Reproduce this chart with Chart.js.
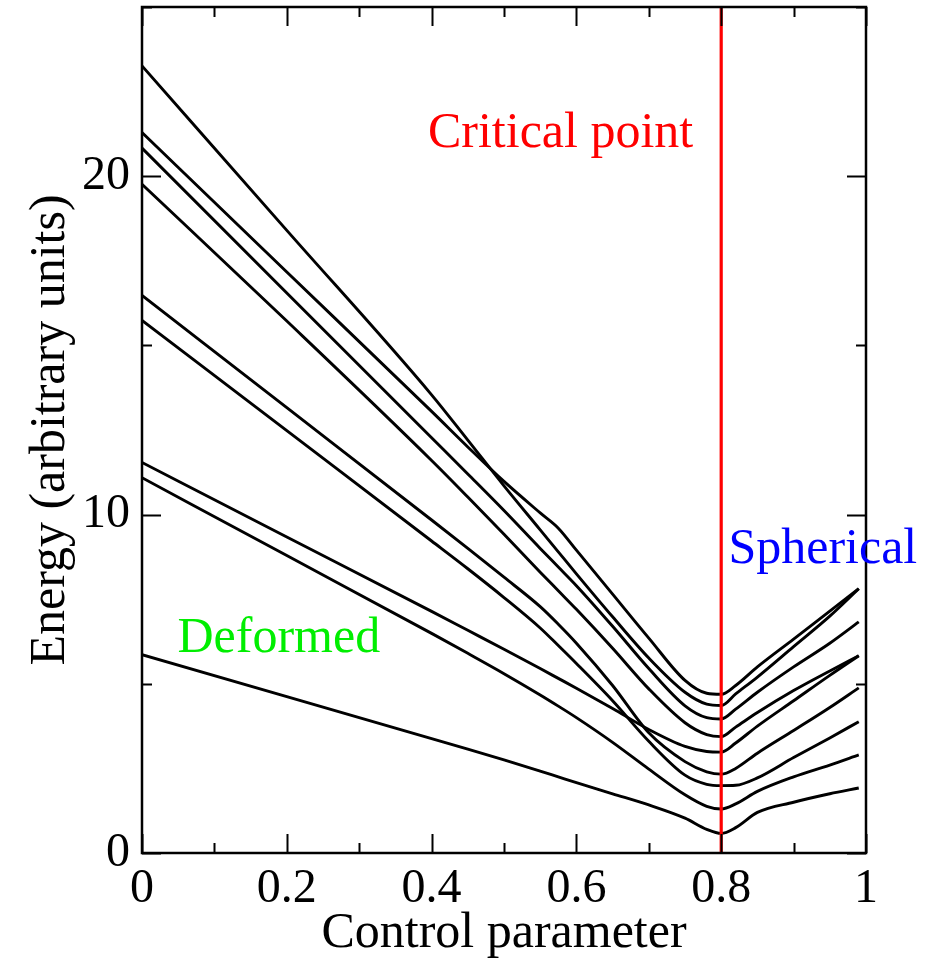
<!DOCTYPE html>
<html>
<head>
<meta charset="utf-8">
<title>Energy levels vs control parameter</title>
<script src="https://cdn.jsdelivr.net/npm/chart.js@4.4.1/dist/chart.umd.min.js"></script>
<style>
  html, body { margin: 0; padding: 0; background: #fff; }
  #wrap { width: 931px; height: 958px; }
</style>
</head>
<body>
<div id="wrap"><canvas id="energyChart" width="931" height="958"></canvas></div>
<script>
// control parameter grid shared by all levels
const CONTROL = [0, 0.2, 0.4, 0.45, 0.5, 0.55, 0.575, 0.6, 0.65, 0.7, 0.75, 0.78, 0.8, 0.82, 0.85, 0.9, 0.95, 0.99];

// energy levels
const LEVEL_1 = [21.29, 17.17, 13.05, 12.0, 10.98, 10.05, 9.6, 8.95, 7.65, 6.35, 5.1, 4.72, 4.69, 4.95, 5.5, 6.32, 7.15, 7.81];
const LEVEL_2 = [23.26, 18.4, 13.54, 12.2, 10.85, 9.55, 8.9, 8.25, 6.98, 5.76, 4.75, 4.4, 4.36, 4.7, 5.2, 6.1, 7.0, 7.81];
const LEVEL_3 = [20.83, 16.55, 12.27, 11.2, 10.12, 9.0, 8.45, 7.9, 6.7, 5.45, 4.35, 4.0, 3.96, 4.25, 4.75, 5.5, 6.2, 6.83];
const LEVEL_4 = [19.76, 15.72, 11.6, 10.52, 9.42, 8.3, 7.75, 7.2, 6.05, 4.85, 3.85, 3.5, 3.44, 3.72, 4.15, 4.8, 5.38, 5.83];
const LEVEL_5 = [11.54, 9.34, 7.14, 6.58, 6.02, 5.45, 5.16, 4.87, 4.27, 3.65, 3.15, 3.0, 2.98, 3.25, 3.75, 4.5, 5.25, 5.83];
const LEVEL_6 = [16.48, 13.16, 9.84, 9.0, 8.15, 7.28, 6.76, 6.2, 4.95, 3.55, 2.7, 2.4, 2.33, 2.5, 2.95, 3.62, 4.3, 4.88];
const LEVEL_7 = [15.74, 12.48, 9.22, 8.4, 7.55, 6.65, 6.13, 5.6, 4.5, 3.3, 2.3, 2.03, 1.99, 2.0, 2.22, 2.82, 3.4, 3.88];
const LEVEL_8 = [11.09, 8.79, 6.49, 5.9, 5.3, 4.67, 4.34, 4.0, 3.27, 2.48, 1.72, 1.38, 1.30, 1.45, 1.82, 2.25, 2.6, 2.90];
const LEVEL_9 = [5.86, 4.62, 3.38, 3.07, 2.75, 2.42, 2.25, 2.08, 1.75, 1.42, 1.03, 0.7, 0.58, 0.75, 1.2, 1.5, 1.75, 1.92];

const LEVELS = [LEVEL_1, LEVEL_2, LEVEL_3, LEVEL_4, LEVEL_5, LEVEL_6, LEVEL_7, LEVEL_8, LEVEL_9];

const CRITICAL_POINT = 0.8;
const X_RANGE = [0, 1];
const Y_RANGE = [0, 25];
const X_MINOR_STEP = 0.1;
const Y_MINOR_STEP = 5;

const SERIF = "'Liberation Serif', 'DejaVu Serif', serif";

function toPoints(values) {
  return values.map((value, i) => ({ x: CONTROL[i], y: value }));
}

// frame with inward ticks on all four sides, plus the region labels
const frameAndLabels = {
  id: 'frameAndLabels',
  afterDraw(chart) {
    const { ctx, chartArea, scales } = chart;
    const { left, right, top, bottom } = chartArea;
    const xs = scales.x;
    const ys = scales.y;

    ctx.save();
    ctx.strokeStyle = '#000';
    ctx.lineWidth = 2;

    for (let i = 0; i <= 10; i++) {
      const v = X_RANGE[0] + i * X_MINOR_STEP;
      const px = Math.round(xs.getPixelForValue(v)) + 0.5;
      const len = i % 2 === 0 ? 19 : 10;
      ctx.beginPath();
      ctx.moveTo(px, bottom);
      ctx.lineTo(px, bottom - len);
      ctx.moveTo(px, top);
      ctx.lineTo(px, top + len);
      ctx.stroke();
    }

    for (let i = 0; i <= 5; i++) {
      const v = Y_RANGE[0] + i * Y_MINOR_STEP;
      const py = Math.round(ys.getPixelForValue(v)) + 0.5;
      const len = i % 2 === 0 ? 19 : 10;
      ctx.beginPath();
      ctx.moveTo(left, py);
      ctx.lineTo(left + len, py);
      ctx.moveTo(right, py);
      ctx.lineTo(right - len, py);
      ctx.stroke();
    }

    ctx.lineWidth = 2.5;
    ctx.strokeRect(left, top, right - left, bottom - top);

    ctx.font = `50px ${SERIF}`;
    ctx.textBaseline = 'alphabetic';

    ctx.fillStyle = '#ff0000';
    ctx.textAlign = 'right';
    ctx.fillText('Critical point', xs.getPixelForValue(CRITICAL_POINT) - 28, ys.getPixelForValue(20.86));

    ctx.fillStyle = '#00ee00';
    ctx.textAlign = 'left';
    ctx.fillText('Deformed', xs.getPixelForValue(0.049), ys.getPixelForValue(5.94));

    ctx.fillStyle = '#0000ff';
    ctx.fillText('Spherical', xs.getPixelForValue(0.81), ys.getPixelForValue(8.57));

    ctx.restore();
  }
};

const datasets = [
  {
    label: 'Critical point',
    data: [{ x: CRITICAL_POINT, y: Y_RANGE[0] }, { x: CRITICAL_POINT, y: Y_RANGE[1] }],
    borderColor: '#ff0000',
    borderWidth: 3.2,
    order: 0
  }
];

LEVELS.forEach((level, i) => {
  datasets.push({
    label: `Level ${i + 1}`,
    data: toPoints(level),
    borderColor: '#000',
    borderWidth: 2.9,
    cubicInterpolationMode: 'monotone',
    order: 1
  });
});

new Chart(document.getElementById('energyChart'), {
  type: 'scatter',
  data: { datasets },
  options: {
    responsive: false,
    animation: false,
    showLine: true,
    layout: { padding: { top: 7, right: 65, left: 17, bottom: 0 } },
    elements: { point: { radius: 0, hoverRadius: 0 } },
    plugins: {
      legend: { display: false },
      tooltip: { enabled: false }
    },
    scales: {
      x: {
        type: 'linear',
        min: X_RANGE[0],
        max: X_RANGE[1],
        grid: { display: false, drawTicks: false },
        border: { display: false },
        ticks: {
          stepSize: 0.2,
          padding: 8,
          maxRotation: 0,
          autoSkip: false,
          color: '#000',
          font: { family: SERIF, size: 48 },
          callback: (value) => String(Number(value.toFixed(1)))
        },
        title: {
          display: true,
          text: 'Control parameter',
          color: '#000',
          font: { family: SERIF, size: 50, lineHeight: 0.82 }
        },
        afterFit: (scale) => {
          scale.height = 105;
          scale.paddingLeft = 0;
          scale.paddingRight = 0;
        }
      },
      y: {
        type: 'linear',
        min: Y_RANGE[0],
        max: Y_RANGE[1],
        grid: { display: false, drawTicks: false },
        border: { display: false },
        ticks: {
          stepSize: 10,
          includeBounds: false,
          padding: 12,
          color: '#000',
          font: { family: SERIF, size: 48 }
        },
        title: {
          display: true,
          text: 'Energy (arbitrary units)',
          color: '#000',
          font: { family: SERIF, size: 50 }
        },
        afterFit: (scale) => {
          scale.width = 125;
          scale.paddingTop = 0;
          scale.paddingBottom = 0;
        }
      }
    }
  },
  plugins: [frameAndLabels]
});
</script>
</body>
</html>
